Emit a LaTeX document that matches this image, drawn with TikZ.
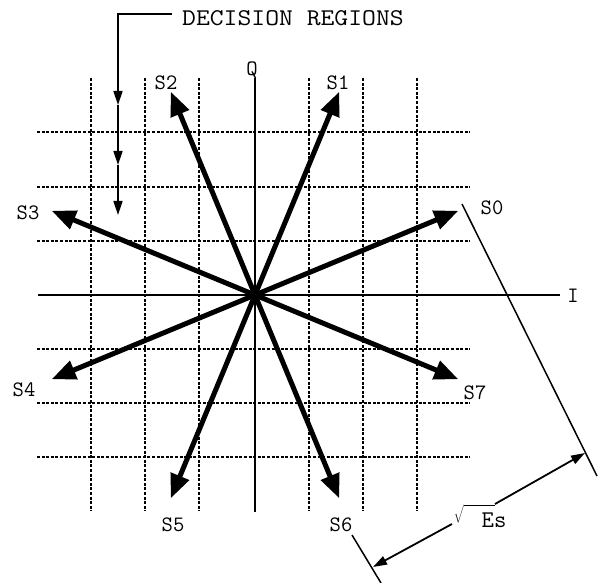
\documentclass[tikz,border=0pt]{standalone}
\usepackage{fontspec}
\usetikzlibrary{arrows.meta}
\begin{document}
\begin{tikzpicture}[x=1pt,y=-1pt,
 gridline/.style={line width=2pt, dash pattern=on 3pt off 1.6pt},
 axisline/.style={line width=1.8pt},
 vec/.style={line width=5pt, -{Triangle[length=24pt,width=19pt]}},
 lbl/.style={font=\fontsize{22}{22}\selectfont\ttfamily, inner sep=0pt},
 leader/.style={line width=1.7pt},
 leadtip/.style={-{Triangle[length=14pt,width=9pt]}},
 extline/.style={line width=1.5pt},
 dimline/.style={line width=1.8pt},
 dimstart/.style={{Triangle[length=14pt,width=9pt]}-},
 dimend/.style={-{Triangle[length=14pt,width=9pt]}},
]
\useasboundingbox (0,0) rectangle (598,583);
% decision region grid
\foreach \x in {91,145,199,309,363,417} \draw[gridline] (\x,78) -- (\x,511);
\foreach \y in {132,187,241,349,403,457} \draw[gridline] (37,\y) -- (470,\y);
% axes
\coordinate (O) at (255,295);
\coordinate (Ileft) at (38,295);
\coordinate (Iright) at (560,295);
\coordinate (Qtop) at (255,78);
\coordinate (Qbot) at (255,512);
\draw[axisline] (Ileft) -- (Iright);
\draw[axisline] (Qtop) -- (Qbot);
\node[lbl] (Q) at (252,70) {Q};
\node[lbl] (I) at (573,296) {I};
% signal vectors
\coordinate (t0) at (458.3,210.8);
\coordinate (t1) at (339.2,91.7);
\coordinate (t2) at (170.8,91.7);
\coordinate (t3) at (51.7,210.8);
\coordinate (t4) at (51.7,379.2);
\coordinate (t5) at (170.8,498.3);
\coordinate (t6) at (339.2,498.3);
\coordinate (t7) at (458.3,379.2);
\foreach \k in {0,...,7} \draw[vec] (O) -- (t\k);
\node[lbl] (S0) at (492,208) {S0};
\node[lbl] (S1) at (338,83) {S1};
\node[lbl] (S2) at (166,83) {S2};
\node[lbl] (S3) at (28,213) {S3};
\node[lbl] (S4) at (24,390) {S4};
\node[lbl] (S5) at (173,525) {S5};
\node[lbl] (S6) at (341,525) {S6};
\node[lbl] (S7) at (475,393) {S7};
% decision regions leader
\node[lbl, font=\fontsize{24}{24}\selectfont\ttfamily, anchor=west] (dr) at (182,18) {\scalebox{1.12}[1]{DECISION REGIONS}};
\coordinate (l0) at (172,14);
\coordinate (l1) at (118,14);
\coordinate (l2) at (118,105);
\coordinate (l3) at (118,165);
\coordinate (l4) at (118,215);
\draw[leader, leadtip] (l0) -- (l1) -- (l2);
\draw[leader, leadtip] (l2) -- (l3);
\draw[leader, leadtip] (l3) -- (l4);
% dimension sqrt(Es)
\coordinate (e1a) at (462,204);
\coordinate (e1b) at (597,476);
\coordinate (e2a) at (352,535);
\coordinate (e2b) at (381,583);
\draw[extline] (e1a) -- (e1b);
\draw[extline] (e2a) -- (e2b);
\coordinate (dA) at (373,567);
\coordinate (dB) at (585,453);
\coordinate (dA2) at (452,524);
\coordinate (dB2) at (495,504);
\draw[dimline, dimstart] (dA) -- (dA2);
\draw[dimline, dimend] (dB2) -- (dB);
\node[font=\fontsize{14}{14}\selectfont, inner sep=0pt, anchor=north east] (rad) at (dB2) {$\sqrt{\rule{0pt}{15pt}\hspace{31pt}}$};
\node[lbl, font=\fontsize{24}{24}\selectfont\ttfamily] (Es) at (494,520) {Es};
\end{tikzpicture}
\end{document}
